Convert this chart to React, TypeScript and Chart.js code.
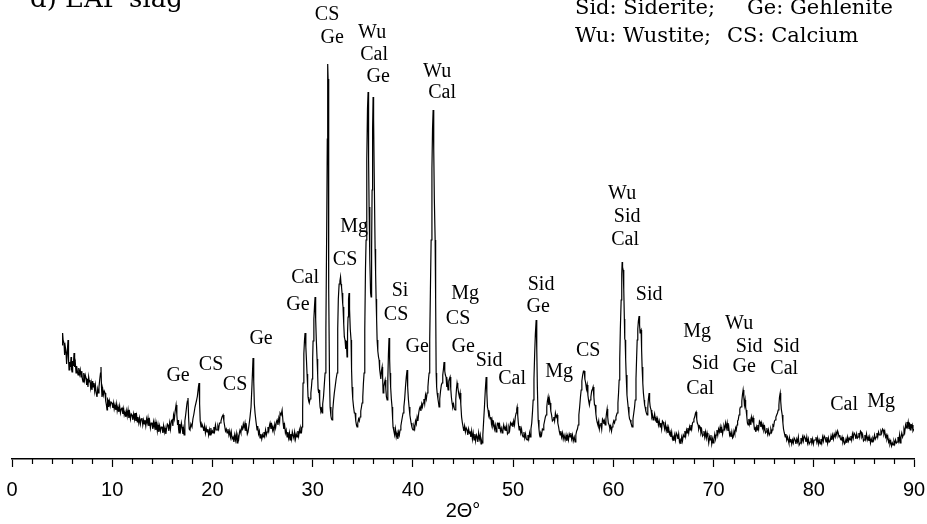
import React, { useEffect, useRef } from "react";
import { Chart, registerables } from "chart.js";

Chart.register(...registerables);

// XRD pattern of EAF slag: [2θ (deg), intensity (a.u.)]
const segA: [number, number][] = [
  [5.00,114],[5.05,126],[5.10,119],[5.19,116],[5.25,104],[5.32,112],[5.39,107],[5.45,95],[5.52,108],[5.59,119],[5.64,100],[5.69,89],[5.76,97],[5.83,92],[5.89,102],[5.94,90],[5.99,87],[6.05,98],[6.12,93],[6.19,106],[6.25,92],[6.32,96],[6.39,86],[6.45,93],[6.52,88],[6.59,84],[6.66,91],[6.74,85],[6.81,89],[6.89,82],[6.96,88],[7.02,80],[7.09,77],[7.16,86],[7.24,79],[7.31,84],[7.39,81],[7.45,74],[7.52,80],[7.58,72],[7.65,82],[7.72,77],[7.78,79],[7.85,71],[7.92,76],[7.98,69],[8.05,78],[8.12,72],[8.18,76],[8.25,68],[8.32,74],[8.40,66],[8.48,62],[8.55,70],[8.62,66],[8.68,72],[8.76,80],[8.83,86],[8.88,92],[8.93,72],[8.98,62],[9.05,70],[9.12,64],[9.20,68],[9.28,66],[9.35,58],[9.42,54],[9.48,49],[9.53,60],[9.58,59],[9.65,52],[9.72,58],[9.80,53],[9.88,57],[9.98,56],[10.06,51],[10.14,56],[10.20,50],[10.28,54],[10.36,49],[10.44,55],[10.50,48],[10.58,52],[10.66,47],[10.74,53],[10.82,46],[10.90,50],[10.98,51],[11.06,45],[11.14,50],[11.20,44],[11.28,47],[11.36,42],[11.44,48],[11.50,43],[11.58,49],[11.66,41],[11.74,46],[11.82,40],[11.90,45],[11.98,44],[12.06,39],[12.14,45],[12.22,40],[12.28,46],[12.36,38],[12.44,43],[12.50,37],[12.57,42],[12.65,36],[12.73,41],[12.81,35],[12.89,40],[12.97,41],[13.05,34],[13.13,39],[13.20,35],[13.27,39],[13.35,33],[13.43,40],[13.50,36],[13.57,41],[13.65,33],[13.73,38],[13.81,31],[13.89,36],[13.97,36],[14.05,30],[14.12,37],[14.20,32],[14.27,37],[14.35,29],[14.43,35],[14.50,28],[14.57,34],[14.65,27],[14.73,33],[14.81,28],[14.89,32],[14.97,32],[15.05,26],[15.12,33],[15.20,27],[15.27,31],[15.35,25],[15.42,30],[15.50,35],[15.57,34],[15.65,28],[15.73,36],[15.81,30],[15.89,38],[15.97,39],
];
const segB: [number, number][] = [
  [16.05,33],[16.12,44],[16.20,40],[16.28,48],[16.37,54],[16.45,44],[16.52,34],[16.57,39],[16.62,30],[16.67,26],[16.74,35],[16.82,29],[16.90,36],[16.97,32],[17.05,25],[17.12,30],[17.17,24],[17.25,38],[17.35,46],[17.45,55],[17.50,58],[17.56,61],[17.62,42],[17.68,30],[17.76,29],[17.85,35],[17.96,32],[18.05,40],[18.15,45],[18.26,52],[18.40,58],[18.50,63],[18.60,72],[18.66,76],[18.72,55],[18.78,38],[18.86,32],[18.95,35],[19.06,32],[19.14,28],[19.22,33],[19.30,26],[19.38,31],[19.46,27],[19.54,30],[19.62,24],[19.70,29],[19.76,24],[19.84,31],[19.92,26],[20.00,28],[20.06,26],[20.14,32],[20.22,28],[20.30,34],[20.38,29],[20.46,29],[20.54,33],[20.62,30],[20.70,36],[20.76,36],[20.85,38],[20.95,42],[21.06,44],[21.14,38],[21.22,33],[21.30,28],[21.38,30],[21.46,26],[21.55,30],[21.64,24],[21.72,28],[21.80,22],[21.88,27],[21.96,20],[22.06,22],[22.14,17],[22.22,24],[22.30,19],[22.38,25],[22.46,16],[22.54,23],[22.62,20],[22.70,27],[22.75,29],[22.84,26],[22.92,32],[23.00,30],[23.08,35],[23.16,31],[23.25,36],[23.33,28],[23.40,32],[23.48,25],[23.55,27],[23.65,34],[23.75,42],[23.85,52],[23.95,75],[24.05,101],[24.12,78],[24.18,55],[24.25,46],[24.35,37],[24.45,29],[24.52,33],[24.60,25],[24.68,28],[24.75,21],[24.84,25],[24.92,20],[25.00,24],[25.05,22],[25.14,27],[25.22,23],[25.30,29],[25.38,24],[25.45,27],[25.54,32],[25.62,28],[25.70,34],[25.75,36],[25.84,30],[25.92,34],[26.00,29],[26.05,32],[26.14,28],[26.22,35],[26.30,31],[26.38,37],[26.45,39],[26.54,34],[26.62,41],[26.70,37],[26.75,46],[26.85,44],[26.95,49],[27.05,36],[27.12,30],[27.20,34],[27.28,26],[27.36,29],[27.45,22],[27.52,27],[27.60,21],[27.68,26],[27.74,19],[27.82,25],[27.90,20],[27.97,27],[28.04,24],[28.12,21],[28.20,27],[28.28,20],[28.36,25],[28.44,22],[28.52,28],[28.60,23],[28.68,29],[28.74,26],[28.82,31],[28.90,28],[28.94,32],
];
const segC: [number, number][] = [
  [29.00,50],[29.04,76],[29.12,105],[29.18,118],[29.24,126],[29.32,112],[29.38,99],[29.44,85],[29.50,72],[29.54,62],[29.60,58],[29.66,56],[29.74,60],[29.82,66],[29.88,72],[29.94,80],[30.00,100],[30.04,118],[30.12,140],[30.18,152],[30.24,162],[30.30,140],[30.36,120],[30.44,100],[30.50,84],[30.54,70],[30.60,66],[30.64,69],[30.70,58],[30.74,52],[30.82,48],[30.88,50],[30.94,46],[31.00,55],[31.08,62],[31.16,74],[31.24,86],[31.32,130],[31.40,230],[31.46,320],[31.50,395],[31.54,380],[31.58,280],[31.62,170],[31.68,80],[31.74,52],[31.82,43],[31.88,40],[31.94,39],[32.00,48],[32.08,58],[32.16,66],[32.24,72],[32.34,80],[32.44,86],[32.50,130],[32.56,160],[32.64,175],[32.72,178],[32.78,182],[32.83,175],[32.88,172],[32.93,166],[33.00,155],[33.03,152],[33.10,135],[33.16,122],[33.23,119],[33.30,110],[33.36,118],[33.43,102],[33.48,126],[33.53,142],[33.58,160],[33.63,166],[33.68,150],[33.75,130],[33.83,119],[33.88,90],[33.93,72],[34.00,60],[34.08,52],[34.16,46],[34.23,46],[34.30,38],[34.37,34],[34.43,32],[34.50,36],[34.58,40],[34.65,38],[34.73,42],[34.80,48],[34.87,52],[34.93,56],[35.00,62],[35.06,75],[35.13,86],[35.20,130],[35.27,190],[35.33,219],[35.40,300],[35.47,350],[35.53,367],[35.58,300],[35.63,252],[35.70,200],[35.78,166],[35.83,162],[35.88,210],[35.93,269],[35.98,330],[36.03,362],[36.08,340],[36.14,286],[36.23,210],[36.28,186],[36.33,160],[36.38,140],[36.43,119],[36.50,108],[36.57,102],[36.63,99],[36.68,90],[36.73,86],[36.80,80],[36.86,88],[36.93,92],[36.98,82],
];
const segD: [number, number][] = [
  [37.03,66],[37.10,72],[37.16,76],[37.23,79],[37.30,70],[37.36,62],[37.43,59],[37.50,80],[37.56,105],[37.62,121],[37.68,100],[37.72,86],[37.78,72],[37.85,60],[37.92,52],[37.98,40],[38.02,32],[38.10,28],[38.18,24],[38.26,30],[38.34,22],[38.42,26],[38.50,20],[38.58,27],[38.65,24],[38.72,29],[38.80,33],[38.88,38],[38.95,42],[39.02,46],[39.10,52],[39.18,60],[39.26,72],[39.34,82],[39.42,89],[39.48,72],[39.55,60],[39.62,52],[39.70,44],[39.76,40],[39.82,36],[39.90,32],[39.96,30],[40.02,29],[40.10,33],[40.18,30],[40.26,38],[40.34,35],[40.42,42],[40.50,38],[40.58,46],[40.65,50],[40.72,52],[40.80,48],[40.88,55],[40.95,52],[41.02,56],[41.10,60],[41.18,55],[41.26,64],[41.34,60],[41.42,66],[41.50,72],[41.56,80],[41.62,86],[41.68,120],[41.75,170],[41.82,219],[41.90,290],[41.96,330],[42.02,349],[42.08,310],[42.14,260],[42.22,219],[42.27,160],[42.32,86],[42.37,72],[42.42,66],[42.50,60],[42.56,56],[42.61,52],[42.68,60],[42.76,68],[42.84,74],[42.91,76],[42.98,84],[43.05,90],[43.11,97],[43.18,88],[43.24,84],[43.31,82],[43.38,72],[43.44,76],[43.51,69],[43.58,78],[43.64,80],[43.71,82],[43.78,70],[43.84,62],[43.91,56],[43.98,52],[44.06,55],[44.14,50],[44.21,49],[44.28,60],[44.35,70],[44.41,76],[44.48,72],[44.56,66],[44.64,62],[44.71,66],[44.78,55],[44.86,42],[44.94,36],[45.01,32],[45.08,28],[45.16,33],[45.24,27],[45.32,31],[45.41,29],[45.48,24],[45.56,30],[45.64,26],[45.71,27],[45.78,22],[45.86,28],[45.94,20],
];
const segE: [number, number][] = [
  [46.02,26],[46.10,19],[46.18,25],[46.26,18],[46.34,24],[46.41,22],[46.48,17],[46.56,26],[46.64,20],[46.72,24],[46.80,15],[46.86,18],[46.91,16],[46.98,24],[47.06,38],[47.14,52],[47.22,68],[47.31,82],[47.38,66],[47.44,52],[47.50,49],[47.56,44],[47.62,46],[47.70,40],[47.78,42],[47.84,35],[47.90,39],[47.98,33],[48.06,36],[48.14,30],[48.22,34],[48.30,27],[48.38,32],[48.44,36],[48.50,36],[48.58,30],[48.66,34],[48.74,28],[48.82,31],[48.90,26],[48.98,30],[49.06,34],[49.12,30],[49.20,32],[49.28,28],[49.36,33],[49.44,25],[49.50,26],[49.58,32],[49.66,29],[49.74,36],[49.82,34],[49.90,36],[49.98,32],[50.06,38],[50.14,34],[50.22,42],[50.30,46],[50.36,50],[50.40,52],[50.46,44],[50.52,36],[50.60,29],[50.68,33],[50.76,26],[50.84,30],[50.92,24],[51.00,22],[51.08,27],[51.16,21],[51.24,25],[51.32,20],[51.40,19],[51.48,24],[51.56,20],[51.64,26],[51.70,22],[51.78,30],[51.86,36],[51.94,48],[52.00,59],[52.08,80],[52.15,105],[52.22,125],[52.30,139],[52.36,110],[52.42,72],[52.50,39],[52.58,30],[52.64,24],[52.69,22],[52.76,26],[52.84,24],[52.92,30],[52.99,29],[53.06,34],[53.14,38],[53.22,42],[53.29,44],[53.36,52],[53.42,58],[53.49,62],[53.56,54],[53.62,60],[53.69,56],[53.76,48],[53.84,44],[53.92,38],[53.99,39],[54.06,42],[54.14,38],[54.22,46],[54.30,42],[54.39,44],[54.46,36],[54.54,32],[54.62,27],[54.69,24],[54.76,28],[54.84,22],[54.92,26],[55.00,20],[55.08,24],[55.19,19],[55.28,24],[55.36,18],[55.44,23],[55.52,19],[55.60,25],[55.69,22],[55.76,26],[55.84,20],[55.92,24],
];
const segF: [number, number][] = [
  [56.00,18],[56.10,22],[56.19,17],[56.26,24],[56.34,28],[56.42,30],[56.49,34],[56.56,44],[56.64,52],[56.72,62],[56.79,69],[56.86,78],[56.94,84],[57.02,88],[57.09,88],[57.16,80],[57.24,76],[57.32,70],[57.39,74],[57.46,64],[57.54,58],[57.61,54],[57.68,59],[57.76,62],[57.84,68],[57.92,70],[57.98,72],[58.06,62],[58.12,54],[58.18,54],[58.26,45],[58.32,40],[58.38,37],[58.46,34],[58.54,38],[58.61,30],[58.68,34],[58.76,36],[58.84,30],[58.92,40],[58.98,39],[59.06,35],[59.12,38],[59.18,34],[59.26,40],[59.32,46],[59.38,50],[59.44,42],[59.50,36],[59.58,34],[59.66,30],[59.74,33],[59.82,28],[59.88,32],[59.96,35],[60.04,38],[60.12,36],[60.18,39],[60.26,42],[60.32,44],[60.38,46],[60.46,56],[60.52,66],[60.58,79],[60.64,100],[60.70,130],[60.78,159],[60.84,185],[60.88,197],[60.92,192],[60.98,189],[61.04,170],[61.10,140],[61.14,120],[61.18,119],[61.23,100],[61.28,84],[61.36,64],[61.42,58],[61.48,52],[61.56,44],[61.62,40],[61.68,39],[61.76,36],[61.82,34],[61.88,32],[61.96,40],[62.04,46],[62.12,52],[62.18,59],[62.26,80],[62.32,100],[62.38,119],[62.44,130],[62.50,138],[62.57,143],[62.62,134],[62.67,126],[62.72,128],[62.77,129],[62.82,110],[62.87,92],[62.94,76],[63.00,66],[63.07,59],[63.12,54],[63.17,52],[63.24,48],[63.30,46],[63.37,44],[63.44,52],[63.50,60],[63.57,66],[63.62,58],[63.68,52],[63.77,49],[63.84,42],[63.90,44],[63.97,39],
];
const segG: [number, number][] = [
  [64.04,41],[64.12,45],[64.20,39],[64.27,41],[64.34,36],[64.42,40],[64.50,34],[64.58,38],[64.67,32],[64.74,36],[64.82,30],[64.90,38],[64.97,37],[65.04,34],[65.12,30],[65.20,35],[65.28,28],[65.37,32],[65.44,26],[65.52,31],[65.60,25],[65.67,27],[65.74,22],[65.82,27],[65.90,20],[65.97,22],[66.04,18],[66.12,24],[66.20,19],[66.28,26],[66.37,24],[66.44,20],[66.52,25],[66.60,17],[66.67,19],[66.74,15],[66.82,22],[66.90,18],[66.98,24],[67.07,22],[67.14,28],[67.22,23],[67.30,29],[67.37,26],[67.44,31],[67.52,26],[67.60,32],[67.66,29],[67.74,34],[67.82,30],[67.90,36],[67.96,37],[68.04,40],[68.12,42],[68.20,46],[68.26,47],[68.32,40],[68.38,36],[68.46,34],[68.52,30],[68.60,33],[68.66,32],[68.74,26],[68.82,29],[68.90,23],[68.96,24],[69.04,28],[69.12,22],[69.20,27],[69.28,21],[69.36,26],[69.44,22],[69.52,16],[69.60,22],[69.66,19],[69.74,24],[69.82,15],[69.90,20],[69.96,16],[70.04,20],[70.12,25],[70.20,20],[70.26,24],[70.34,29],[70.42,24],[70.50,30],[70.58,27],[70.66,32],[70.74,26],[70.82,31],[70.90,25],[70.96,29],[71.04,33],[71.12,30],[71.20,36],[71.28,31],[71.36,36],[71.44,28],[71.52,32],[71.60,24],[71.66,26],[71.74,22],[71.82,27],[71.90,21],[71.96,22],[72.04,28],[72.12,25],[72.20,31],[72.26,29],[72.34,34],[72.40,38],[72.46,39],[72.54,44],[72.62,50],[72.68,52],[72.75,52],[72.82,58],[72.88,64],[72.95,69],[73.02,62],[73.08,54],[73.15,59],[73.20,52],[73.25,49],[73.32,42],[73.38,36],[73.45,34],[73.52,40],[73.58,35],[73.65,39],[73.72,34],[73.80,42],[73.88,38],[73.95,41],[74.02,35],[74.08,30],[74.15,31],[74.22,27],[74.28,32],[74.35,29],[74.42,34],[74.50,30],[74.58,38],[74.65,37],[74.72,32],[74.80,36],[74.88,31],[74.95,34],[75.02,29],[75.10,32],[75.18,26],[75.25,27],[75.32,31],[75.40,25],[75.48,29],[75.56,24],[75.65,26],[75.72,30],[75.80,27],[75.85,29],[75.92,34],[76.00,33],[76.08,38],[76.15,39],[76.22,42],[76.30,44],[76.38,46],[76.45,49],[76.52,54],[76.58,62],[76.65,66],[76.70,58],[76.76,50],[76.85,44],[76.92,36],[76.98,30],
];
const segH: [number, number][] = [
  [77.06,26],[77.15,22],[77.22,25],[77.30,19],[77.38,22],[77.45,19],[77.52,16],[77.58,21],[77.64,17],[77.72,20],[77.80,15],[77.88,19],[77.96,16],[78.04,21],[78.14,19],[78.22,15],[78.30,20],[78.38,17],[78.46,22],[78.54,14],[78.64,16],[78.72,21],[78.80,17],[78.88,22],[78.96,18],[79.04,23],[79.14,21],[79.22,17],[79.30,22],[79.38,16],[79.46,20],[79.54,15],[79.64,17],[79.72,21],[79.80,16],[79.88,20],[79.96,15],[80.04,19],[80.14,19],[80.22,22],[80.30,17],[80.38,21],[80.46,15],[80.54,19],[80.64,15],[80.72,20],[80.80,16],[80.88,22],[80.96,18],[81.04,23],[81.14,21],[81.22,17],[81.30,22],[81.38,16],[81.46,21],[81.54,17],[81.64,18],[81.72,23],[81.80,19],[81.88,24],[81.96,20],[82.04,25],[82.14,22],[82.22,27],[82.30,24],[82.38,28],[82.44,26],[82.52,22],[82.60,24],[82.66,20],[82.73,19],[82.82,22],[82.90,17],[82.98,20],[83.06,15],[83.13,16],[83.22,20],[83.30,16],[83.38,22],[83.46,18],[83.54,21],[83.63,19],[83.70,23],[83.78,19],[83.86,25],[83.94,21],[84.02,26],[84.13,24],[84.20,20],[84.28,25],[84.36,21],[84.43,22],[84.50,26],[84.58,22],[84.66,28],[84.73,27],[84.80,22],[84.88,24],[84.96,18],[85.03,19],[85.10,24],[85.18,20],[85.26,25],[85.34,19],[85.43,22],[85.50,18],[85.58,22],[85.66,16],[85.74,20],[85.83,17],[85.90,21],[85.98,19],[86.06,24],[86.14,20],[86.23,22],[86.30,26],[86.38,22],[86.46,27],[86.54,24],[86.63,24],[86.70,28],[86.78,26],[86.86,30],[86.93,29],[87.00,25],[87.08,28],[87.16,22],[87.23,24],[87.30,20],[87.38,23],[87.46,17],[87.52,19],[87.60,15],[87.68,18],[87.76,13],[87.84,16],[87.92,14],[88.00,18],[88.08,15],[88.16,19],[88.24,16],[88.32,17],[88.40,22],[88.48,18],[88.56,24],[88.62,16],[88.70,22],[88.78,26],[88.86,22],[88.92,24],[89.00,30],[89.08,27],[89.16,34],[89.22,31],[89.30,37],[89.36,33],[89.42,37],[89.50,30],[89.56,36],[89.62,29],[89.70,35],[89.76,32],[89.82,34],[89.90,28],[90.00,30],
];

// Phase labels: [text, 2θ, intensity level]
const peakLabels: [string, number, number][] = [
  ["Ge", 16.57, 83], ["CS", 19.86, 94], ["CS", 22.26, 74], ["Ge", 24.85, 120],
  ["Cal", 29.24, 181], ["Ge", 28.54, 154],
  ["CS", 31.44, 444], ["Ge", 31.94, 421],
  ["Mg", 34.13, 232], ["CS", 33.23, 199],
  ["Wu", 35.93, 426], ["Cal", 36.13, 404], ["Ge", 36.53, 382],
  ["Wu", 42.42, 387], ["Cal", 42.91, 366],
  ["Si", 38.72, 168], ["CS", 38.32, 144], ["Ge", 40.42, 112],
  ["Mg", 45.21, 165], ["CS", 44.51, 140], ["Ge", 45.01, 112],
  ["Sid", 47.6, 98], ["Cal", 49.9, 80],
  ["Sid", 52.79, 174], ["Ge", 52.5, 152],
  ["Mg", 54.59, 87], ["CS", 57.49, 108],
  ["Wu", 60.88, 265], ["Sid", 61.38, 242], ["Cal", 61.18, 219],
  ["Sid", 63.57, 164],
  ["Mg", 68.36, 127], ["Sid", 69.16, 95], ["Cal", 68.66, 70],
  ["Wu", 72.55, 135], ["Sid", 73.55, 112], ["Ge", 73.05, 92],
  ["Sid", 77.25, 112], ["Cal", 77.05, 90],
  ["Cal", 83.03, 54], ["Mg", 86.73, 57],
];

const legendLines: [string, string][] = [
  ["Sid: Siderite;", "Ge: Gehlenite"],
  ["Wu: Wustite;", "CS: Calcium"],
];
const panelTitle = "d) EAF slag";
const xTitle = "2\u0398\u00b0";
const xMin = 0;
const xMax = 90;
const yMax = 459;

const axisFont = { family: '"Liberation Sans", Arial, sans-serif', size: 20 };

export default function App() {
  const ref = useRef<HTMLCanvasElement | null>(null);

  useEffect(() => {
    document.body.style.margin = "0";
    const canvas = ref.current;
    if (!canvas) return;
    const points = [...segA, ...segB, ...segC, ...segD, ...segE, ...segF, ...segG, ...segH].map(
      ([x, y]) => ({ x, y })
    );

    const textPlugin = {
      id: "xrdText",
      afterDraw(chart: any) {
        const { ctx, scales } = chart;
        const xs = scales.x;
        const ys = scales.y;
        ctx.save();
        // minor ticks
        ctx.strokeStyle = "#000";
        ctx.lineWidth = 1.2;
        const base = chart.chartArea.bottom;
        for (let v = xMin + 2; v < xMax; v += 2) {
          if (v % 10 === 0) continue;
          const px = Math.round(xs.getPixelForValue(v)) + 0.5;
          ctx.beginPath();
          ctx.moveTo(px, base);
          ctx.lineTo(px, base + 5);
          ctx.stroke();
        }
        // peak labels
        ctx.fillStyle = "#000";
        ctx.font = '20px "Liberation Serif", "Times New Roman", serif';
        ctx.textAlign = "center";
        ctx.textBaseline = "middle";
        for (const [t, x, y] of peakLabels) {
          ctx.fillText(t, xs.getPixelForValue(x), ys.getPixelForValue(y));
        }
        // legend and panel title
        ctx.textAlign = "left";
        ctx.textBaseline = "alphabetic";
        ctx.font = '21px "DejaVu Serif", serif';
        ctx.fillText(legendLines[0][0], 575, 14);
        ctx.fillText(legendLines[0][1], 747, 14);
        ctx.fillText(legendLines[1][0], 575, 42);
        ctx.fillText(legendLines[1][1], 727, 42);
        ctx.font = '26px "DejaVu Serif", serif';
        ctx.fillText(panelTitle, 30, 7);
        ctx.restore();
      },
    };

    const chart = new Chart(canvas, {
      type: "line",
      data: {
        datasets: [
          {
            data: points,
            borderColor: "#000",
            borderWidth: 1.2,
            pointRadius: 0,
            tension: 0,
            fill: false,
          },
        ],
      },
      options: {
        animation: false,
        responsive: true,
        maintainAspectRatio: false,
        parsing: false as any,
        layout: { padding: { left: 12, right: 13, top: 0, bottom: 0 } },
        plugins: { legend: { display: false }, tooltip: { enabled: false } },
        scales: {
          x: {
            type: "linear",
            min: xMin,
            max: xMax,
            afterFit: (scale: any) => {
              scale.height = 65;
              scale.paddingLeft = 0;
              scale.paddingRight = 0;
            },
            border: { display: true, color: "#000", width: 1.6 },
            grid: {
              drawOnChartArea: false,
              drawTicks: true,
              tickLength: 8,
              tickColor: (c: any) => (c.tick && c.tick.value % 10 === 0 ? "#000" : "rgba(0,0,0,0)"),
              tickWidth: 1.2,
            },
            ticks: {
              stepSize: 2,
              autoSkip: false,
              maxRotation: 0,
              padding: 11,
              color: "#000",
              font: axisFont,
              callback: (v: any) => (Number(v) % 10 === 0 ? String(v) : ""),
            },
            title: {
              display: true,
              text: xTitle,
              color: "#000",
              padding: { top: 0, bottom: 1 },
              font: axisFont,
            },
          },
          y: { display: false, min: 0, max: yMax },
        },
      },
      plugins: [textPlugin],
    } as any);
    return () => chart.destroy();
  }, []);

  return (
    <div style={{ position: "fixed", left: 0, top: 0, width: 927, height: 524 }}>
      <canvas ref={ref} />
    </div>
  );
}
